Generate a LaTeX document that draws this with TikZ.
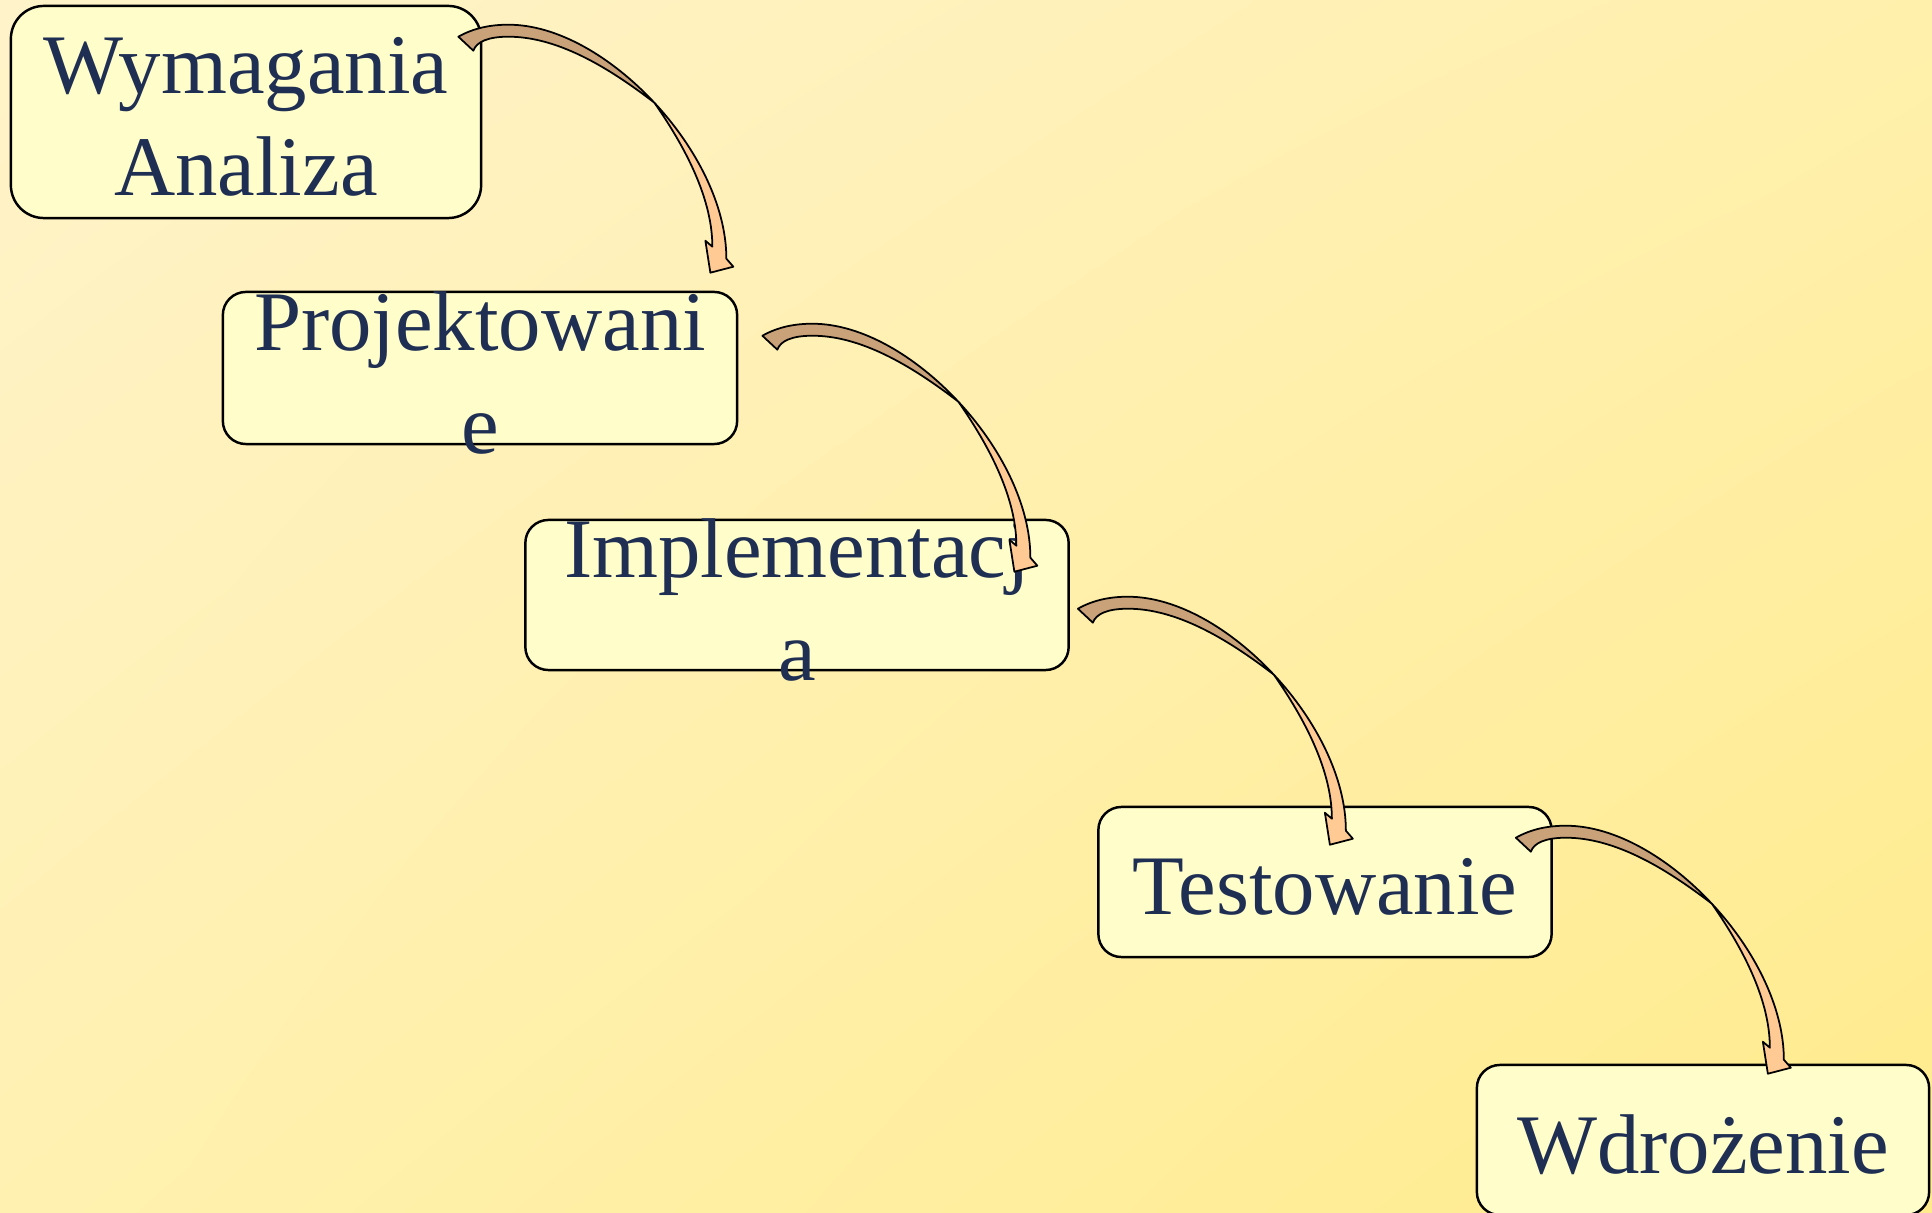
\documentclass[tikz,border=0pt]{standalone}
\usepackage{fontspec}
\setmainfont{Liberation Serif}
\usetikzlibrary{calc, shadings}

\definecolor{bgtl}{HTML}{FFF3CA}
\definecolor{bgtr}{HTML}{FFF0AC}
\definecolor{bgbl}{HTML}{FFF1B0}
\definecolor{bgbr}{HTML}{FFEB8C}
\definecolor{boxfill}{HTML}{FFFDCA}
\definecolor{navy}{HTML}{1F2E53}
\definecolor{arrback}{HTML}{C9A27A}
\definecolor{arrfront}{HTML}{FFCA94}

\tikzset{
	box/.style={draw=black, line width=0.7pt, fill=boxfill, rounded corners=0.23cm, inner sep=0pt},
	lbl/.style={text=navy, align=center, inner sep=0pt, yshift=-0.05cm, font=\fontsize{24.1}{29.2}\selectfont},
	pics/bendarrow/.style={code={
		% front side, down to the head
		\filldraw[fill=arrfront, line width=0.5pt, line join=round]
			(188,59) .. controls (230,104) and (260,162) .. (260,215)
			-- (267,223) -- (244,229) -- (239,197) -- (246,203)
			.. controls (246,150) and (213,95) .. (188,59) -- cycle;
		% back side, from the tail
		\filldraw[fill=arrback, line width=0.5pt, line join=round]
			(-8,-7) -- (7,7)
			.. controls (10,-2) and (22,-7) .. (42,-7)
			.. controls (90,-7) and (140,22) .. (188,59)
			.. controls (145,13) and (91,-19) .. (42,-19)
			.. controls (25,-19) and (8,-16) .. (-8,-7) -- cycle;
	}}
}

\begin{document}
\begin{tikzpicture}[x=0.01cm, y=-0.01cm]
	\useasboundingbox (0,0) rectangle (1932,1213);
	\shade[upper left=bgtl, upper right=bgtr, lower left=bgbl, lower right=bgbr] (0,0) rectangle (1932,1213);

	\node[box, minimum width=4.70cm, minimum height=2.12cm, rounded corners=0.33cm] (wym) at (246,112) {};
	\node[box, minimum width=5.14cm, minimum height=1.52cm] (proj) at (480,368) {};
	\node[box, minimum width=5.43cm, minimum height=1.50cm] (impl) at (797,595) {};
	\node[box, minimum width=4.53cm, minimum height=1.50cm] (test) at (1325,882) {};
	\node[box, minimum width=4.52cm, minimum height=1.50cm] (wdr) at (1703,1140) {};

	\node[lbl] (wymtxt) at (wym) {Wymagania\\Analiza};
	\node[lbl] (projtxt) at (proj) {Projektowani\\e};
	\node[lbl] (impltxt) at (impl) {Implementacj\\a};
	\node[lbl] (testtxt) at (test) {Testowanie};
	\node[lbl] (wdrtxt) at (wdr) {Wdrożenie};

	\foreach \a/\dx/\dy in {wym/-16/39, proj/32/52, impl/16/97, test/-29/39} {
		\pic at ($(\a.north east)+(\dx,\dy)$) {bendarrow};
	}
\end{tikzpicture}
\end{document}
